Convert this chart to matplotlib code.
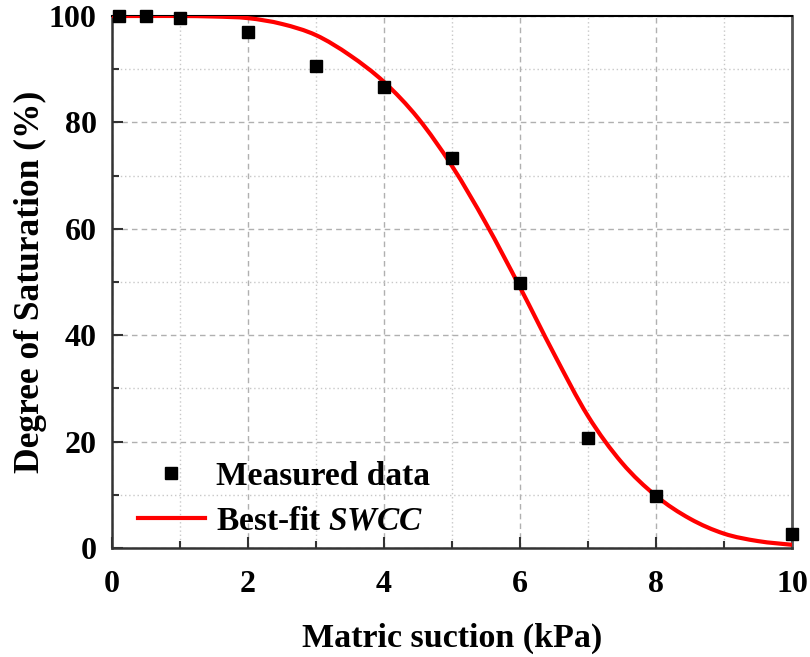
import matplotlib
matplotlib.use("Agg")
import matplotlib.pyplot as plt
from matplotlib.path import Path
from matplotlib.patches import PathPatch
from matplotlib.ticker import MultipleLocator

# Measured degree of saturation vs matric suction
suction = [0.1, 0.5, 1, 2, 3, 4, 5, 6, 7, 8, 10]
saturation = [100.0, 100.0, 99.7, 97.0, 90.6, 86.7, 73.3, 49.8, 20.6, 9.8, 2.6]

# Best-fit SWCC curve read at 0.5 kPa steps
fit_suction = [0, 0.5, 1, 1.5, 2, 2.5, 3, 3.5, 4, 4.5, 5,
               5.5, 6, 6.5, 7, 7.5, 8, 8.5, 9, 9.5, 10]
fit_saturation = [100, 100, 100, 99.9, 99.6, 98.5, 96.4, 92.6, 87.6, 80.8, 71.8,
                  61.0, 49.0, 36.5, 24.8, 16.0, 9.8, 5.5, 2.7, 1.3, 0.6]

x_ticks = [0, 2, 4, 6, 8, 10]
y_ticks = [0, 20, 40, 60, 80, 100]

RED = '#ff0000'

plt.rcParams['font.family'] = ['Liberation Serif', 'DejaVu Serif']
plt.rcParams['font.weight'] = 'bold'
plt.rcParams['mathtext.fontset'] = 'custom'
plt.rcParams['mathtext.it'] = 'Liberation Serif:italic:bold'
plt.rcParams['mathtext.rm'] = 'Liberation Serif:bold'


def smooth_path(xs, ys):
    """Catmull-Rom spline through the points, as cubic Bezier segments."""
    pts = list(zip(xs, ys))
    verts = [pts[0]]
    codes = [Path.MOVETO]
    n = len(pts)
    for i in range(n - 1):
        p0 = pts[max(i - 1, 0)]
        p1 = pts[i]
        p2 = pts[i + 1]
        p3 = pts[min(i + 2, n - 1)]
        c1 = (p1[0] + (p2[0] - p0[0]) / 6, p1[1] + (p2[1] - p0[1]) / 6)
        c2 = (p2[0] - (p3[0] - p1[0]) / 6, p2[1] - (p3[1] - p1[1]) / 6)
        verts += [c1, c2, p2]
        codes += [Path.CURVE4] * 3
    return Path(verts, codes)


fig = plt.figure(figsize=(8.1, 6.57), dpi=100)
ax = fig.add_axes([112 / 810, 1 - 548 / 657, 680 / 810, 532 / 657])

curve = PathPatch(smooth_path(fit_suction, fit_saturation), fill=False,
                  edgecolor=RED, lw=3.0, capstyle='butt', zorder=3)
ax.add_patch(curve)
# proxy handle for the legend entry of the fitted curve
ax.plot([], [], color=RED, lw=3.0, label=r'Best-fit $\mathit{SWCC}$')
ax.plot(suction, saturation, 's', color='black', ms=8.5, ls='none',
        label='Measured data', zorder=4, clip_on=False)

ax.set_xlim(0, 10)
ax.set_ylim(0, 100)
ax.set_xticks(x_ticks)
ax.set_yticks(y_ticks)
ax.xaxis.set_minor_locator(MultipleLocator(1))
ax.yaxis.set_minor_locator(MultipleLocator(10))

ax.tick_params(which='major', direction='in', length=8, width=1.5,
               labelsize=23, pad=11, color='#333333')
ax.tick_params(axis='x', which='major', pad=16)
ax.tick_params(which='minor', direction='in', length=5, width=1.5,
               color='#333333')

ax.grid(which='major', ls=(0, (4, 3)), color='#b0b0b0', lw=1.0)
ax.grid(which='minor', ls=(0, (1, 2)), color='#c8c8c8', lw=1.0)
ax.set_axisbelow(True)

for side in ['left', 'bottom']:
    ax.spines[side].set_color('#333333')
    ax.spines[side].set_linewidth(1.8)
ax.spines['top'].set_color('black')
ax.spines['top'].set_linewidth(1.5)
ax.spines['right'].set_color('#555555')
ax.spines['right'].set_linewidth(2.0)

fig.text(452 / 810, 1 - 638 / 657, 'Matric suction (kPa)', fontsize=24.5,
         fontweight='bold', ha='center', va='center')
fig.text(30 / 810, 1 - 282 / 657, 'Degree of Saturation (%)', fontsize=25.5,
         fontweight='bold', ha='center', va='center', rotation=90)

handles, labels = ax.get_legend_handles_labels()
ax.legend(handles[::-1], labels[::-1], loc='lower left',
          bbox_to_anchor=(0.038, 0.021), frameon=False, fontsize=24,
          handlelength=2.0, handletextpad=0.35, labelspacing=0.42,
          borderpad=0, borderaxespad=0, markerscale=1.0)

fig.savefig('out.png', dpi=100)
